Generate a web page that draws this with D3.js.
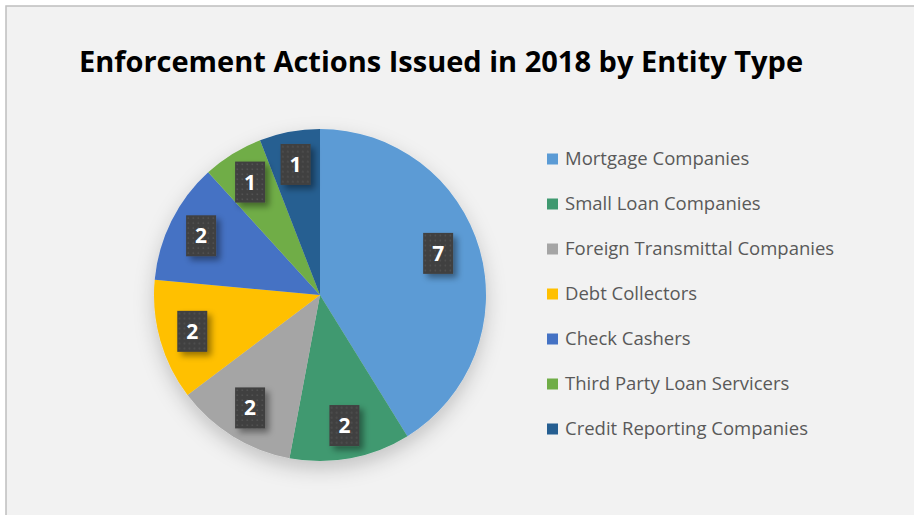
<!DOCTYPE html>
<html>
<head>
<meta charset="utf-8">
<script src="https://cdn.jsdelivr.net/npm/d3@7/dist/d3.min.js"></script>
<style>
  html, body { margin: 0; padding: 0; background: #ffffff; }
  svg { display: block; }
</style>
</head>
<body>
<svg id="chart" width="914" height="515"></svg>
<script>
// Enforcement actions by entity type, 2018
const categories = [
  "Mortgage Companies",
  "Small Loan Companies",
  "Foreign Transmittal Companies",
  "Debt Collectors",
  "Check Cashers",
  "Third Party Loan Servicers",
  "Credit Reporting Companies"
];
const counts = [7, 2, 2, 2, 2, 1, 1];
const colors = ["#5B9BD5", "#3F9970", "#A5A5A5", "#FFC000", "#4472C4", "#70AD47", "#255E91"];
const chartTitle = "Enforcement Actions Issued in 2018 by Entity Type";

const W = 914, H = 515;
const svg = d3.select("#chart");
const defs = svg.append("defs");

// chart area background and frame
svg.append("rect").attr("x", 0).attr("y", 0).attr("width", W).attr("height", H).attr("fill", "#ffffff");
svg.append("rect").attr("x", 6).attr("y", 6).attr("width", W).attr("height", H)
  .attr("fill", "#f2f2f2").attr("stroke", "#bfbfbf").attr("stroke-width", 1.5);

// soft shadow under the pie
const pieShadow = defs.append("filter").attr("id", "pieShadow")
  .attr("x", "-30%").attr("y", "-30%").attr("width", "160%").attr("height", "160%");
pieShadow.append("feDropShadow").attr("dx", 0).attr("dy", 8)
  .attr("stdDeviation", 10).attr("flood-color", "#000").attr("flood-opacity", 0.2);

// shadow for the value boxes
const boxShadow = defs.append("filter").attr("id", "boxShadow")
  .attr("x", "-50%").attr("y", "-50%").attr("width", "220%").attr("height", "220%");
boxShadow.append("feDropShadow").attr("dx", 4).attr("dy", 4)
  .attr("stdDeviation", 3).attr("flood-color", "#000").attr("flood-opacity", 0.4);

// dotted fill for the value boxes
const pat = defs.append("pattern").attr("id", "dots")
  .attr("patternUnits", "userSpaceOnUse").attr("width", 5).attr("height", 5);
pat.append("rect").attr("width", 5).attr("height", 5).attr("fill", "#404040");
pat.append("rect").attr("x", 1.5).attr("y", 1.5).attr("width", 1.5).attr("height", 1.5).attr("fill", "#545454");

// title
svg.append("text")
  .attr("x", 441).attr("y", 72)
  .attr("text-anchor", "middle")
  .attr("font-family", "'Open Sans', 'Noto Sans', sans-serif")
  .attr("font-weight", "bold")
  .attr("font-size", 29)
  .attr("fill", "#000000")
  .text(chartTitle);

// pie
const cx = 320, cy = 295, R = 166;
const total = d3.sum(counts);
const pie = d3.pie().sort(null).value(d => d.v);
const data = categories.map((c, i) => ({ name: c, v: counts[i], color: colors[i] }));
const arcs = pie(data);
const arc = d3.arc().innerRadius(0).outerRadius(R);

const g = svg.append("g").attr("transform", `translate(${cx},${cy})`);
g.append("g").attr("filter", "url(#pieShadow)")
  .selectAll("path").data(arcs).join("path")
  .attr("d", arc)
  .attr("fill", d => d.data.color);

// value labels
const bw = 30, bh = 41;
const labels = g.append("g").selectAll("g").data(arcs).join("g")
  .attr("transform", d => {
    const a = (d.startAngle + d.endAngle) / 2;
    const share = d.data.v / total;
    const rho = R * (share > 0.25 ? 0.74 : 0.8);
    return `translate(${rho * Math.sin(a)},${-rho * Math.cos(a) - (share > 0.25 ? 8 : 0)})`;
  });
labels.append("rect")
  .attr("x", -bw / 2).attr("y", -bh / 2).attr("width", bw).attr("height", bh)
  .attr("fill", "url(#dots)")
  .attr("filter", "url(#boxShadow)");
labels.append("text")
  .attr("text-anchor", "middle")
  .attr("dy", "0.36em")
  .attr("font-family", "'Open Sans', 'Noto Sans', sans-serif")
  .attr("font-weight", "bold")
  .attr("font-size", 21)
  .attr("fill", "#ffffff")
  .text(d => d.data.v);

// legend
const legY = d3.scalePoint().domain(categories).range([159, 429]);
const leg = svg.append("g").selectAll("g").data(data).join("g")
  .attr("transform", d => `translate(547,${legY(d.name)})`);
leg.append("rect").attr("x", 0).attr("y", -5.5).attr("width", 11).attr("height", 11)
  .attr("fill", d => d.color);
leg.append("text")
  .attr("x", 18).attr("dy", "0.35em")
  .attr("font-family", "'Open Sans', 'Noto Sans', sans-serif")
  .attr("font-size", 18.5)
  .attr("fill", "#595959")
  .text(d => d.name);
</script>
</body>
</html>
